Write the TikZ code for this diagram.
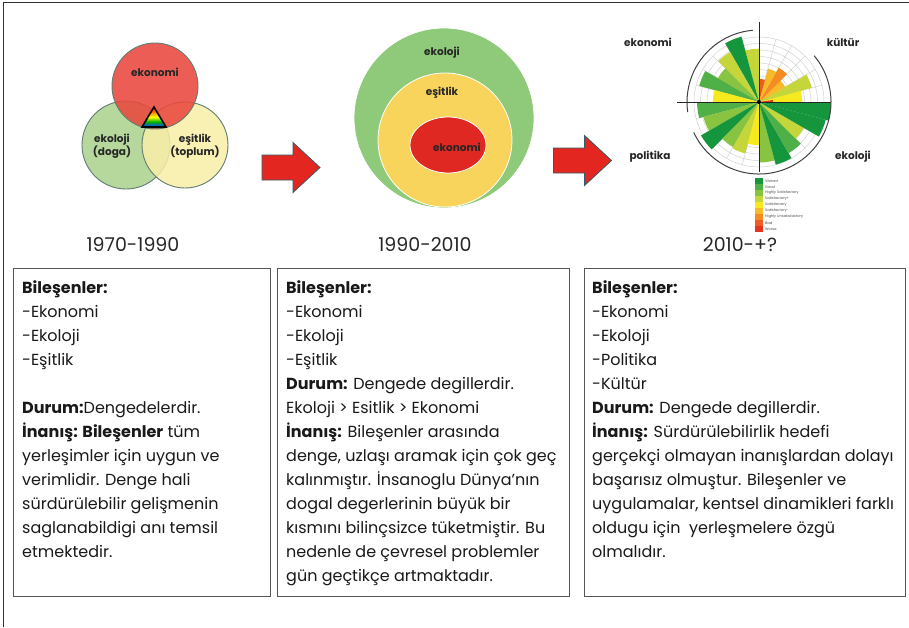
\documentclass[tikz,border=0pt]{standalone}
\usepackage{fontspec}
\setmainfont{Poppins}

\definecolor{venred}{RGB}{234,72,62}
\definecolor{vengreen}{RGB}{170,210,140}
\definecolor{venyellow}{RGB}{249,238,168}
\definecolor{venline}{RGB}{95,125,115}
\definecolor{ringgreen}{RGB}{142,202,122}
\definecolor{ringyellow}{RGB}{248,212,92}
\definecolor{ringred}{RGB}{224,40,34}
\definecolor{arrowred}{RGB}{228,38,32}
\definecolor{arrowedge}{RGB}{45,95,105}
\definecolor{qa}{RGB}{22,150,60}
\definecolor{qb}{RGB}{80,176,72}
\definecolor{qc}{RGB}{136,196,64}
\definecolor{qd}{RGB}{196,214,58}
\definecolor{qe}{RGB}{246,234,30}
\definecolor{qf}{RGB}{248,186,40}
\definecolor{qg}{RGB}{245,140,34}
\definecolor{qh}{RGB}{238,92,36}
\definecolor{qi}{RGB}{230,50,30}
\definecolor{boxline}{RGB}{85,85,85}

\pgfdeclareverticalshading{prism}{100bp}{color(0bp)=(blue!70!cyan); color(27bp)=(blue!70!cyan);
  color(38bp)=(green!70!black); color(50bp)=(yellow); color(62bp)=(orange); color(75bp)=(red); color(100bp)=(red)}

\tikzset{
  tag/.style={font=\bfseries\fontsize{10.5}{12.5}\selectfont, text=black!85},
  yearlabel/.style={font=\fontsize{19}{22}\selectfont, text=black!85},
  infobox/.style={draw=boxline, line width=1.2pt, anchor=north west, inner sep=0pt},
  infotext/.style={anchor=north west, align=left, inner sep=0pt,
    font=\fontsize{16}{24}\selectfont, text=black!90},
  legendtext/.style={anchor=west, inner sep=0pt, font=\fontsize{3.6}{4}\selectfont, text=black!70},
  arrowbody/.style={fill=arrowred, draw=arrowedge, line width=0.8pt, line join=miter},
  pics/bigarrow/.style={code={
    \draw[arrowbody] (-29,-12.5) -- (2,-12.5) -- (2,-25) -- (29,0) -- (2,25) -- (2,12.5) -- (-29,12.5) -- cycle;}}
}

\begin{document}
\begin{tikzpicture}[x=1pt,y=-1pt]
\useasboundingbox (0,0) rectangle (909,627);
\fill[white] (0,0) rectangle (909,627);
% frame
\draw[black!80, line width=1pt] (3,627) -- (3,2) -- (909,2);

% 1970-1990 : three circles
\begin{scope}[line width=0.9pt, draw=venline]
  \filldraw[fill=vengreen, fill opacity=0.85, draw=venline] (126,145) circle (44pt);
  \filldraw[fill=venyellow, fill opacity=0.85, draw=venline] (185,145) circle (43pt);
  \filldraw[fill=venred, fill opacity=0.88, draw=venline] (155,86) circle (43pt);
\end{scope}
\shade[shading=prism] (154,107) -- (166,127) -- (142,127) -- cycle;
\draw[black, line width=1.6pt, line join=miter] (154,107) -- (166,127) -- (142,127) -- cycle;
\node[tag] (ekoA) at (155,72) {ekonomi};
\node[tag, align=center] (ekolA) at (112,146) {ekoloji\\(doga)};
\node[tag, align=center] (esitA) at (195,146) {eşitlik\\(toplum)};
\node[yearlabel] (yearA) at (133,245) {1970-1990};

\pic (arrowA) at (291,167.5) {bigarrow};

% 1990-2010 : nested rings
\filldraw[fill=ringgreen, draw=white, line width=0.8pt] (444,118) circle (90pt);
\filldraw[fill=ringyellow, draw=white, line width=0.8pt] (445,140) circle (67pt);
\filldraw[fill=ringred, draw=white, line width=0.8pt] (448,145) ellipse [x radius=38pt, y radius=28pt];
\node[tag] (ekolB) at (442,53) {ekoloji};
\node[tag] (esitB) at (442,93) {eşitlik};
\node[tag] (ekoB) at (457,147) {ekonomi};
\node[yearlabel] (yearB) at (425,245) {1990-2010};

\pic (arrowB) at (582.5,160.5) {bigarrow};

% 2010-+? : polar chart
\begin{scope}[shift={(759,102)}]
  \foreach \r in {6.5,13,...,65}
    \draw[black!18, line width=0.5pt] (0,0) circle (\r pt);
  \foreach \a in {0,15,...,345}
    \draw[black!18, line width=0.5pt] (0,0) -- (\a:65pt);
  \foreach \a/\v/\c in {0/0.6/qe, 15/0.76/qd, 30/0.42/qf, 45/0.55/qg, 60/0.48/qf, 75/0.32/qh,
      90/0.74/qd, 105/0.94/qa, 120/0.8/qd, 135/0.66/qc, 150/0.86/qb, 165/0.64/qe,
      180/0.86/qb, 195/0.8/qc, 210/0.93/qa, 225/0.72/qc, 240/0.74/qd, 255/0.6/qe,
      270/0.84/qc, 285/0.9/qa, 300/0.82/qb, 315/0.72/qd, 330/0.96/qa, 345/1/qa} {
    \pgfmathsetmacro\len{\v*72}
    \fill[\c] (0,0) -- (\a:\len pt) arc[start angle=\a, end angle=\a+15, radius=\len pt] -- cycle;
  }
  \fill[qi] (0,0) -- (0:14pt) arc[start angle=0, end angle=8, radius=14pt] -- cycle;
  \draw[black!75, line width=1pt] (95:72pt) arc[start angle=95, end angle=188, radius=72pt];
  \draw[black!75, line width=1pt] (205:72pt) arc[start angle=205, end angle=400, radius=72pt];
  \draw[black!85, line width=0.8pt] (-82pt,0) -- (72pt,0);
  \draw[black!85, line width=0.8pt] (0,80pt) -- (0,-70pt);
  \fill[black] (0,0) circle (2pt);
\end{scope}
\node[tag] (ekoC) at (648,42) {ekonomi};
\node[tag] (kultC) at (843,43) {kültür};
\node[tag] (polC) at (650,157) {politika};
\node[tag] (ekolC) at (853,157) {ekoloji};

% legend
\foreach \c/\t [count=\i] in {qa/Vibrant, qb/Good, qc/Highly Satisfactory, qd/Satisfactory+,
    qe/Satisfactory, qf/Satisfactory-, qg/Highly Unsatisfactory, qh/Bad, qi/Worse} {
  \fill[\c] (755,{172+6*\i}) rectangle (763,{178+6*\i});
  \node[legendtext] (lg\i) at (765,{175+6*\i}) {\t};
}
\node[yearlabel] (yearC) at (740,245) {2010-+?};

% text boxes
\node[infobox, minimum width=257pt, minimum height=328pt] (boxA) at (13,268) {};
\node[infobox, minimum width=292pt, minimum height=328pt] (boxB) at (277,268) {};
\node[infobox, minimum width=321pt, minimum height=328pt] (boxC) at (584,268) {};

\node[infotext] (textA) at (22,280) {\textbf{Bileşenler:}\\ -Ekonomi\\ -Ekoloji\\ -Eşitlik\\[24pt]
  \textbf{Durum:}Dengedelerdir.\\ \textbf{İnanış: Bileşenler} tüm\\ yerleşimler için uygun ve\\
  verimlidir. Denge hali\\ sürdürülebilir gelişmenin\\ saglanabildigi anı temsil\\ etmektedir.};
\node[infotext] (textB) at (286,280) {\textbf{Bileşenler:}\\ -Ekonomi\\ -Ekoloji\\ -Eşitlik\\
  \textbf{Durum:} Dengede degillerdir.\\ Ekoloji > Esitlik > Ekonomi\\
  \textbf{İnanış:} Bileşenler arasında\\ denge, uzlaşı aramak için çok geç\\
  kalınmıştır. İnsanoglu Dünya'nın\\ dogal degerlerinin büyük bir\\
  kısmını bilinçsizce tüketmiştir. Bu\\ nedenle de çevresel problemler\\ gün geçtikçe artmaktadır.};
\node[infotext] (textC) at (592,280) {\textbf{Bileşenler:}\\ -Ekonomi\\ -Ekoloji\\ -Politika\\ -Kültür\\
  \textbf{Durum:} Dengede degillerdir.\\ \textbf{İnanış:} Sürdürülebilirlik hedefi\\
  gerçekçi olmayan inanışlardan dolayı\\ başarısız olmuştur. Bileşenler ve\\
  uygulamalar, kentsel dinamikleri farklı\\ oldugu için\ \ yerleşmelere özgü\\ olmalıdır.};
\end{tikzpicture}
\end{document}
